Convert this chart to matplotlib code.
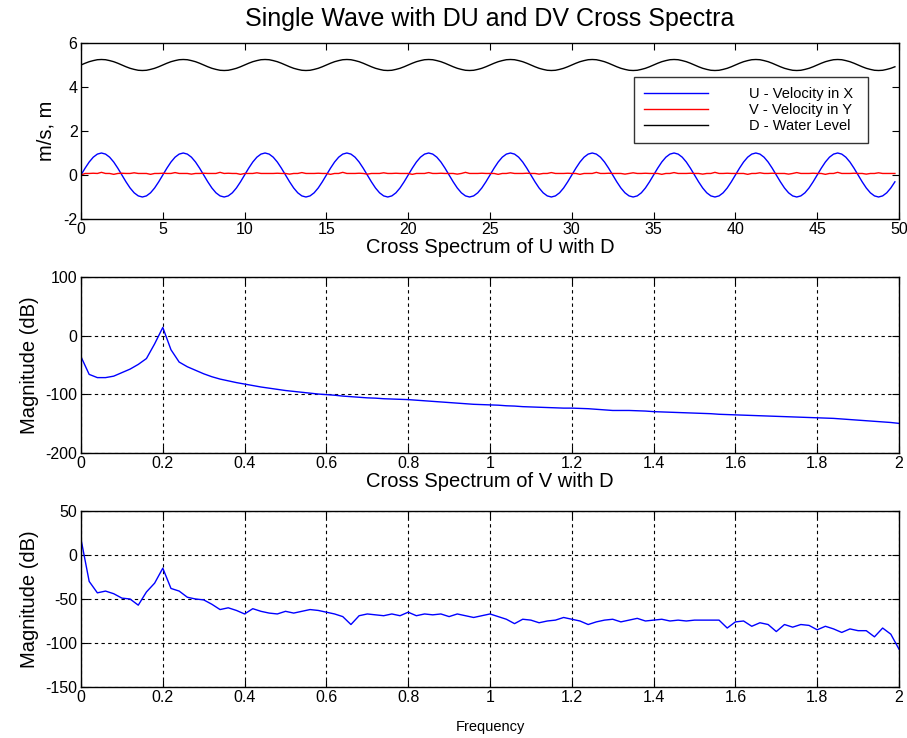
import numpy as np
import matplotlib
matplotlib.use("Agg")
import matplotlib.pyplot as plt

plt.rcParams['font.family'] = ['Liberation Sans', 'DejaVu Sans']

# ---------------- data ----------------
dt = 0.25
u_velocity = [
    0.00, 0.31, 0.59, 0.81, 0.95, 1.00, 0.95, 0.81, 0.59, 0.31, 0.00, -0.31, -0.59, -0.81, -0.95, -1.00, -0.95, -0.81, -0.59, -0.31,
    0.00, 0.31, 0.59, 0.81, 0.95, 1.00, 0.95, 0.81, 0.59, 0.31, 0.00, -0.31, -0.59, -0.81, -0.95, -1.00, -0.95, -0.81, -0.59, -0.31,
    0.00, 0.31, 0.59, 0.81, 0.95, 1.00, 0.95, 0.81, 0.59, 0.31, 0.00, -0.31, -0.59, -0.81, -0.95, -1.00, -0.95, -0.81, -0.59, -0.31,
    0.00, 0.31, 0.59, 0.81, 0.95, 1.00, 0.95, 0.81, 0.59, 0.31, 0.00, -0.31, -0.59, -0.81, -0.95, -1.00, -0.95, -0.81, -0.59, -0.31,
    0.00, 0.31, 0.59, 0.81, 0.95, 1.00, 0.95, 0.81, 0.59, 0.31, 0.00, -0.31, -0.59, -0.81, -0.95, -1.00, -0.95, -0.81, -0.59, -0.31,
    0.00, 0.31, 0.59, 0.81, 0.95, 1.00, 0.95, 0.81, 0.59, 0.31, 0.00, -0.31, -0.59, -0.81, -0.95, -1.00, -0.95, -0.81, -0.59, -0.31,
    0.00, 0.31, 0.59, 0.81, 0.95, 1.00, 0.95, 0.81, 0.59, 0.31, 0.00, -0.31, -0.59, -0.81, -0.95, -1.00, -0.95, -0.81, -0.59, -0.31,
    0.00, 0.31, 0.59, 0.81, 0.95, 1.00, 0.95, 0.81, 0.59, 0.31, 0.00, -0.31, -0.59, -0.81, -0.95, -1.00, -0.95, -0.81, -0.59, -0.31,
    0.00, 0.31, 0.59, 0.81, 0.95, 1.00, 0.95, 0.81, 0.59, 0.31, 0.00, -0.31, -0.59, -0.81, -0.95, -1.00, -0.95, -0.81, -0.59, -0.31,
    0.00, 0.31, 0.59, 0.81, 0.95, 1.00, 0.95, 0.81, 0.59, 0.31, 0.00, -0.31, -0.59, -0.81, -0.95, -1.00, -0.95, -0.81, -0.59, -0.31,
]
v_velocity = [
    0.00, 0.07, 0.07, 0.08, 0.07, 0.12, 0.07, 0.07, 0.03, 0.07, 0.08, 0.07, 0.07, 0.10, 0.07, 0.07, 0.07, 0.03, 0.07, 0.07,
    0.08, 0.07, 0.07, 0.11, 0.07, 0.07, 0.07, 0.04, 0.07, 0.07, 0.08, 0.07, 0.07, 0.07, 0.12, 0.07, 0.08, 0.07, 0.07, 0.03,
    0.07, 0.07, 0.07, 0.10, 0.07, 0.07, 0.07, 0.07, 0.08, 0.07, 0.07, 0.04, 0.07, 0.07, 0.11, 0.07, 0.07, 0.07, 0.08, 0.07,
    0.07, 0.03, 0.07, 0.07, 0.12, 0.07, 0.07, 0.07, 0.08, 0.07, 0.04, 0.07, 0.07, 0.07, 0.10, 0.07, 0.07, 0.08, 0.07, 0.07,
    0.07, 0.03, 0.07, 0.07, 0.07, 0.11, 0.07, 0.07, 0.08, 0.07, 0.07, 0.07, 0.04, 0.07, 0.12, 0.07, 0.07, 0.07, 0.08, 0.07,
    0.07, 0.07, 0.03, 0.07, 0.07, 0.10, 0.07, 0.07, 0.07, 0.08, 0.07, 0.07, 0.04, 0.07, 0.07, 0.11, 0.07, 0.07, 0.07, 0.08,
    0.07, 0.07, 0.03, 0.07, 0.07, 0.07, 0.12, 0.07, 0.07, 0.08, 0.07, 0.07, 0.07, 0.04, 0.07, 0.10, 0.07, 0.07, 0.08, 0.07,
    0.07, 0.07, 0.03, 0.07, 0.07, 0.11, 0.07, 0.07, 0.07, 0.08, 0.07, 0.07, 0.04, 0.07, 0.07, 0.12, 0.07, 0.07, 0.08, 0.07,
    0.07, 0.07, 0.07, 0.03, 0.07, 0.07, 0.10, 0.07, 0.07, 0.08, 0.07, 0.07, 0.07, 0.04, 0.07, 0.11, 0.07, 0.07, 0.07, 0.08,
    0.07, 0.07, 0.03, 0.07, 0.07, 0.12, 0.07, 0.07, 0.07, 0.08, 0.07, 0.07, 0.04, 0.07, 0.07, 0.10, 0.07, 0.07, 0.07, 0.07,
]
d_level = [
    5.00, 5.08, 5.15, 5.20, 5.24, 5.25, 5.24, 5.20, 5.15, 5.08, 5.00, 4.92, 4.85, 4.80, 4.76, 4.75, 4.76, 4.80, 4.85, 4.92,
    5.00, 5.08, 5.15, 5.20, 5.24, 5.25, 5.24, 5.20, 5.15, 5.08, 5.00, 4.92, 4.85, 4.80, 4.76, 4.75, 4.76, 4.80, 4.85, 4.92,
    5.00, 5.08, 5.15, 5.20, 5.24, 5.25, 5.24, 5.20, 5.15, 5.08, 5.00, 4.92, 4.85, 4.80, 4.76, 4.75, 4.76, 4.80, 4.85, 4.92,
    5.00, 5.08, 5.15, 5.20, 5.24, 5.25, 5.24, 5.20, 5.15, 5.08, 5.00, 4.92, 4.85, 4.80, 4.76, 4.75, 4.76, 4.80, 4.85, 4.92,
    5.00, 5.08, 5.15, 5.20, 5.24, 5.25, 5.24, 5.20, 5.15, 5.08, 5.00, 4.92, 4.85, 4.80, 4.76, 4.75, 4.76, 4.80, 4.85, 4.92,
    5.00, 5.08, 5.15, 5.20, 5.24, 5.25, 5.24, 5.20, 5.15, 5.08, 5.00, 4.92, 4.85, 4.80, 4.76, 4.75, 4.76, 4.80, 4.85, 4.92,
    5.00, 5.08, 5.15, 5.20, 5.24, 5.25, 5.24, 5.20, 5.15, 5.08, 5.00, 4.92, 4.85, 4.80, 4.76, 4.75, 4.76, 4.80, 4.85, 4.92,
    5.00, 5.08, 5.15, 5.20, 5.24, 5.25, 5.24, 5.20, 5.15, 5.08, 5.00, 4.92, 4.85, 4.80, 4.76, 4.75, 4.76, 4.80, 4.85, 4.92,
    5.00, 5.08, 5.15, 5.20, 5.24, 5.25, 5.24, 5.20, 5.15, 5.08, 5.00, 4.92, 4.85, 4.80, 4.76, 4.75, 4.76, 4.80, 4.85, 4.92,
    5.00, 5.08, 5.15, 5.20, 5.24, 5.25, 5.24, 5.20, 5.15, 5.08, 5.00, 4.92, 4.85, 4.80, 4.76, 4.75, 4.76, 4.80, 4.85, 4.92,
]
series_labels = ["U - Velocity in X", "V - Velocity in Y", "D - Water Level"]

df = 0.02
mag_ud = [
    -36, -66, -71.5, -71.5, -69, -63, -57, -49, -39, -14,
    14, -24, -45, -53, -59, -65, -70, -74, -77, -80,
    -82.5, -85, -87.5, -89.5, -91.5, -93.5, -95, -96.5, -98, -99.5,
    -100.5, -101.5, -103, -104, -105, -106, -106.5, -107.5, -108, -108.5,
    -109, -110, -111, -112, -113, -114, -115, -116, -117, -117.5,
    -118, -118.5, -119.5, -120, -121, -121.5, -122, -122.5, -123, -123.5,
    -123.5, -124, -124.5, -125.5, -126.5, -127.5, -127.5, -127.5, -128, -128.5,
    -129.5, -130, -130.5, -131, -131.5, -132, -132.5, -133, -134, -134.5,
    -135, -135.5, -136, -136.5, -137, -137.5, -138, -138.5, -139, -139.5,
    -140, -140.5, -141, -142, -143, -144, -145, -146, -147, -148,
    -149.5,
]
mag_vd = [
    18, -30, -43, -41, -44, -49, -50, -57, -42, -32,
    -15, -38, -41, -48, -50, -51, -56, -62, -60, -63,
    -67, -61, -64, -66, -67, -64, -66, -64, -62, -63,
    -65, -67, -70, -79, -69, -67, -68, -69, -67, -69,
    -65, -69, -67, -68, -67, -70, -67, -69, -71, -69,
    -67, -70, -73, -78, -73, -74, -77, -75, -74, -71,
    -73, -75, -79, -76, -74, -73, -76, -74, -72, -75,
    -74, -73, -75, -74, -75, -74, -74, -74, -74, -83,
    -76, -75, -81, -77, -79, -87, -79, -82, -79, -80,
    -85, -81, -84, -88, -84, -86, -86, -93, -83, -90,
    -107,
]

time_ticks = [0, 5, 10, 15, 20, 25, 30, 35, 40, 45, 50]
time_ticklabels = ["0", "5", "10", "15", "20", "25", "30", "35", "40", "45", "50"]
freq_ticks = [0, 0.2, 0.4, 0.6, 0.8, 1.0, 1.2, 1.4, 1.6, 1.8, 2.0]
freq_ticklabels = ["0", "0.2", "0.4", "0.6", "0.8", "1", "1.2", "1.4", "1.6", "1.8", "2"]

t = np.arange(len(u_velocity)) * dt
freq = np.arange(len(mag_ud)) * df

# ---------------- figure ----------------
W, H = 907, 738
fig = plt.figure(figsize=(W / 100, H / 100), dpi=100)

def axes_px(left, top, right, bottom):
    return fig.add_axes([left / W, 1 - bottom / H, (right - left) / W, (bottom - top) / H])

ax1 = axes_px(81, 43, 899, 219)
ax2 = axes_px(81, 277, 899, 453)
ax3 = axes_px(81, 511, 899, 687)

TICK_FS = 11.5
LABEL_FS = 14.5

for ax in (ax1, ax2, ax3):
    for s in ax.spines.values():
        s.set_color("black")
        s.set_linewidth(1.0)
    ax.tick_params(direction="in", top=True, right=True, length=5, width=0.8,
                   labelsize=TICK_FS, colors="black", pad=2.5)

# top: time series
ax1.plot(t, u_velocity, color=(0, 0, 1), lw=1.0, label=series_labels[0])
ax1.plot(t, v_velocity, color=(1, 0, 0), lw=1.0, label=series_labels[1])
ax1.plot(t, d_level, color="black", lw=1.0, label=series_labels[2])
ax1.set_xlim(0, 50)
ax1.set_ylim(-2, 6)
ax1.set_xticks(time_ticks)
ax1.set_xticklabels(time_ticklabels)
ax1.set_yticks([-2, 0, 2, 4, 6])
ax1.set_yticklabels(["-2", "0", "2", "4", "6"])
ax1.set_ylabel("m/s, m", fontsize=LABEL_FS)
ax1.yaxis.set_label_coords(-0.031, 0.5)
leg = ax1.legend(loc="upper left", bbox_to_anchor=(0.676, 0.807, 0.286, 0.0), mode="expand",
                 borderaxespad=0, fontsize=10.5, frameon=True, fancybox=False,
                 handlelength=4.4, handletextpad=2.8, labelspacing=0.14, borderpad=0.7)
leg.get_frame().set_edgecolor("black")
leg.get_frame().set_linewidth(1.0)
ax1.text(0.5, 1.136, "Single Wave with DU and DV Cross Spectra", transform=ax1.transAxes,
         ha="center", va="center", fontsize=18)

grid_kw = dict(color="black", linestyle=(0, (3, 3)), linewidth=0.8)

# middle: cross spectrum U-D
ax2.plot(freq, mag_ud, color=(0, 0, 1), lw=1.0)
ax2.set_xlim(0, 2)
ax2.set_ylim(-200, 100)
ax2.set_xticks(freq_ticks)
ax2.set_xticklabels(freq_ticklabels)
ax2.set_yticks([-200, -100, 0, 100])
ax2.set_yticklabels(["-200", "-100", "0", "100"])
ax2.grid(True, **grid_kw)
ax2.set_axisbelow(True)
ax2.set_ylabel("Magnitude (dB)", fontsize=LABEL_FS)
ax2.yaxis.set_label_coords(-0.051, 0.5)
ax2.text(0.5, 1.168, "Cross Spectrum of U with D", transform=ax2.transAxes,
         ha="center", va="center", fontsize=LABEL_FS)

# bottom: cross spectrum V-D
ax3.plot(freq, mag_vd, color=(0, 0, 1), lw=1.0)
ax3.set_xlim(0, 2)
ax3.set_ylim(-150, 50)
ax3.set_xticks(freq_ticks)
ax3.set_xticklabels(freq_ticklabels)
ax3.set_yticks([-150, -100, -50, 0, 50])
ax3.set_yticklabels(["-150", "-100", "-50", "0", "50"])
ax3.grid(True, **grid_kw)
ax3.set_axisbelow(True)
ax3.set_ylabel("Magnitude (dB)", fontsize=LABEL_FS)
ax3.yaxis.set_label_coords(-0.051, 0.5)
ax3.set_xlabel("Frequency", fontsize=10.5)
ax3.xaxis.set_label_coords(0.5, -0.185)
ax3.text(0.5, 1.168, "Cross Spectrum of V with D", transform=ax3.transAxes,
         ha="center", va="center", fontsize=LABEL_FS)

fig.savefig("out.png", dpi=100, facecolor="white")
